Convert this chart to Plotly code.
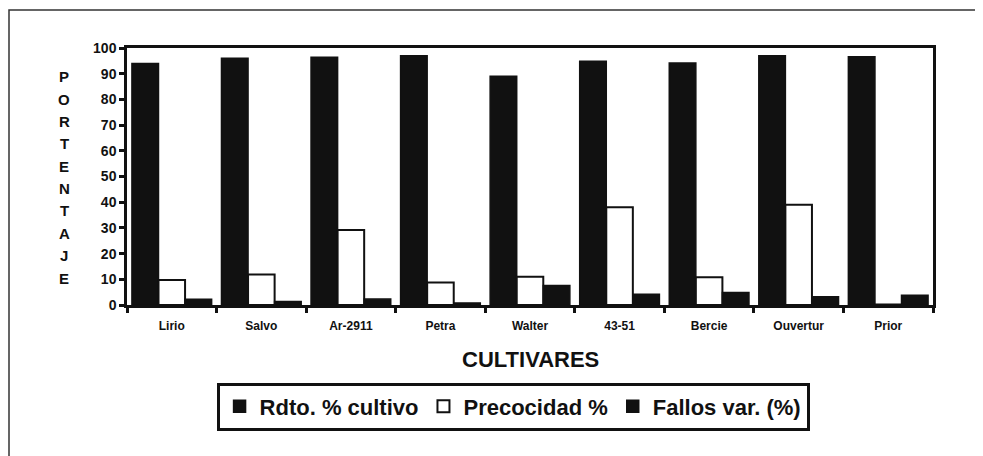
import plotly.graph_objects as go

categories = ["Lirio", "Salvo", "Ar-2911", "Petra", "Walter", "43-51", "Bercie", "Ouvertur", "Prior"]
rdto = [94, 96, 96.4, 97, 89, 94.8, 94.2, 97, 96.6]
precocidad = [9.7, 11.9, 29.2, 8.8, 11, 38, 10.8, 39, 0.2]
fallos = [2.2, 1.4, 2.3, 0.8, 7.6, 4.2, 4.9, 3.2, 3.8]
y_letters = list("PORTENTAJE")

FONT = "Liberation Sans, Arial, sans-serif"
INK = "#111111"

fig = go.Figure()
fig.add_bar(x=categories, y=rdto, name="Rdto. % cultivo",
            marker=dict(color=INK, line=dict(color=INK, width=1.5)))
fig.add_bar(x=categories, y=precocidad, name="Precocidad %",
            marker=dict(color="white", line=dict(color=INK, width=2)))
fig.add_bar(x=categories, y=fallos, name="Fallos var. (%)",
            marker=dict(color=INK, line=dict(color=INK, width=1.5)))

# page body has an 8px margin, so the figure is sized 975x448
fig.update_layout(
    width=975, height=448,
    margin=dict(l=119, r=50, t=40, b=151),
    paper_bgcolor="white", plot_bgcolor="white",
    barmode="group", bargap=0.11, bargroupgap=0,
    font=dict(family=FONT, color=INK),
    showlegend=True,
    legend=dict(orientation="h", x=0.479, xanchor="center", y=-0.395, yanchor="middle",
                bordercolor=INK, borderwidth=3, bgcolor="white",
                font=dict(size=22, family=FONT, color=INK, weight="bold"),
                itemwidth=30, traceorder="normal"),
)
fig.update_xaxes(showline=True, linecolor=INK, linewidth=2.5, mirror=True,
                 ticks="outside", tickson="boundaries", ticklen=5, tickwidth=2.5,
                 tickcolor=INK, showgrid=False, ticklabelstandoff=8,
                 tickfont=dict(size=12, family=FONT, weight="bold"))
fig.update_yaxes(range=[0, 100], dtick=10, showline=True, linecolor=INK, linewidth=2.5,
                 mirror=True, ticks="outside", ticklen=5, tickwidth=2.5, tickcolor=INK,
                 showgrid=False, zeroline=False,
                 tickfont=dict(size=14, family=FONT, weight="bold"))

fig.add_annotation(text="CULTIVARES", xref="paper", yref="paper", x=0.5, y=-0.214,
                   showarrow=False, yanchor="middle",
                   font=dict(size=22, family=FONT, weight="bold", color=INK))

n = len(y_letters)
top, bottom = 0.888, 0.105
for i, ch in enumerate(y_letters):
    fig.add_annotation(text=ch, xref="paper", yref="paper", x=-0.078,
                       y=top - i * (top - bottom) / (n - 1), showarrow=False,
                       xanchor="center", yanchor="middle",
                       font=dict(size=15, family=FONT, weight="bold", color=INK))

# outer frame of the figure
fig.add_shape(type="rect", xref="paper", yref="paper",
              x0=-0.1464, x1=1.09, y0=-0.65, y1=1.148,
              line=dict(color="#333333", width=1.5))

fig.write_html("out.html")
